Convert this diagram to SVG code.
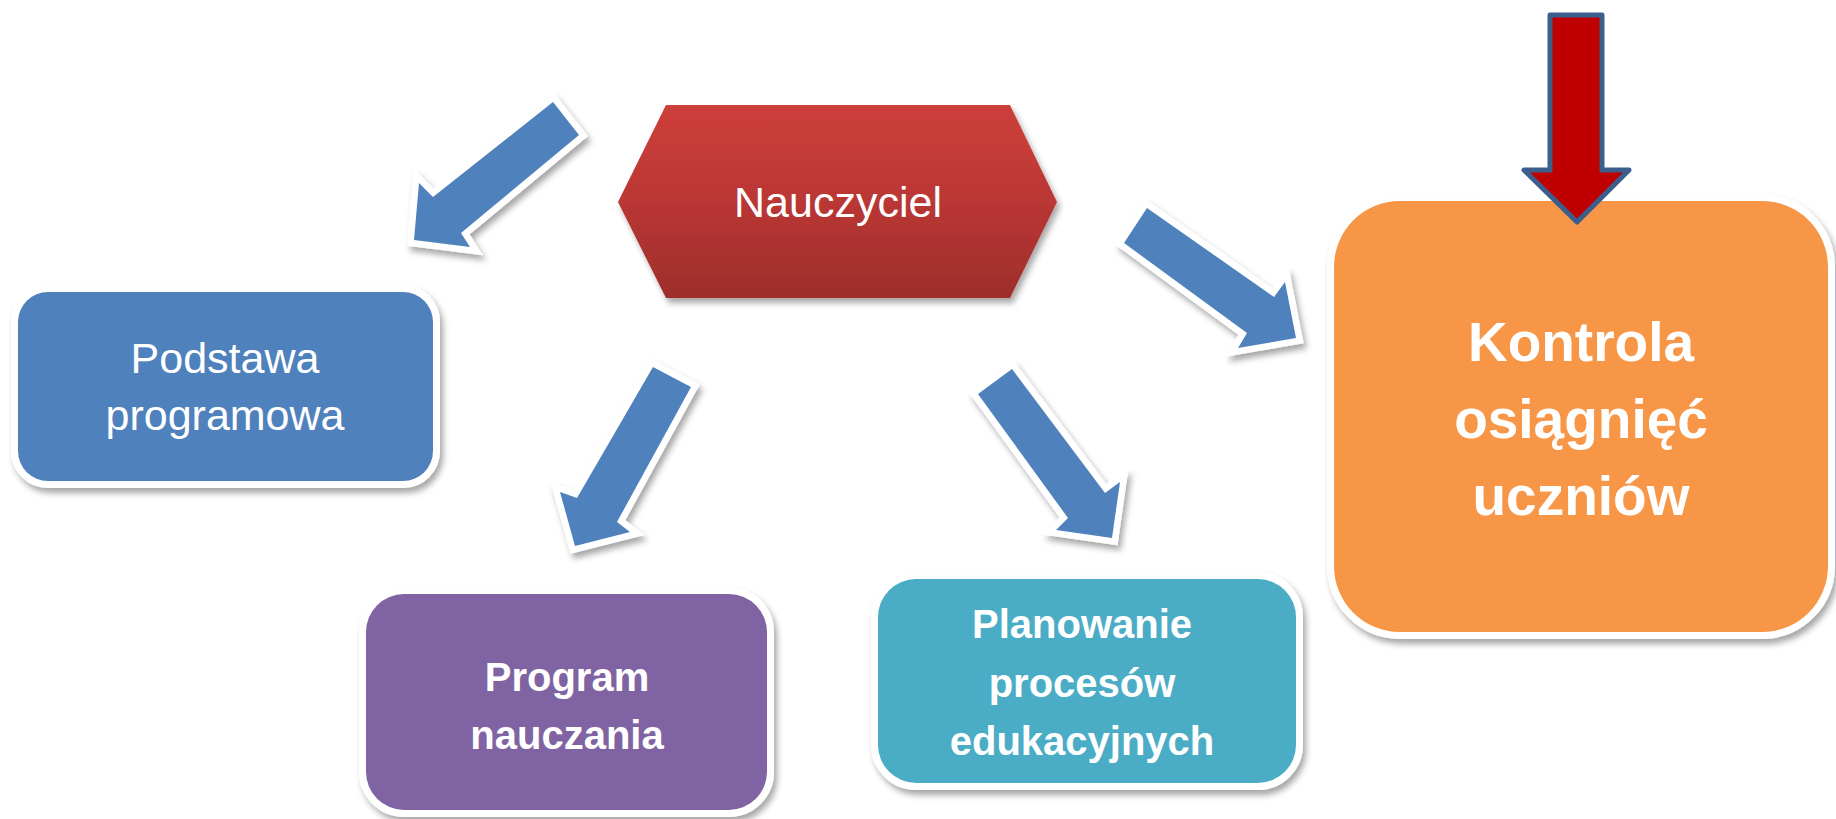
<svg xmlns="http://www.w3.org/2000/svg" width="1836" height="819" viewBox="0 0 1836 819">
  <defs>
    <filter id="sh" x="-10%" y="-10%" width="125%" height="130%">
      <feDropShadow dx="3" dy="5" stdDeviation="3" flood-color="#000" flood-opacity="0.35"/>
    </filter>
    <linearGradient id="hexg" x1="0" y1="0" x2="0" y2="1">
      <stop offset="0" stop-color="#CD3F3B"/>
      <stop offset="0.5" stop-color="#BA3734"/>
      <stop offset="1" stop-color="#9E2D2B"/>
    </linearGradient>
    <style>
      .box { stroke: #FFFFFF; stroke-width: 14; paint-order: stroke; filter: url(#sh); }
      .barrow { fill: #4F81BD; stroke: #FFFFFF; stroke-width: 13; stroke-linejoin: miter; paint-order: stroke; filter: url(#sh); }
      .t { fill: #FFFFFF; font-family: "Liberation Sans", Arial, sans-serif; text-anchor: middle; }
      .reg { font-size: 43px; }
      .b40 { font-size: 40px; font-weight: bold; }
      .b55 { font-size: 55px; font-weight: bold; }
    </style>
  </defs>
  <rect width="1836" height="819" fill="#FFFFFF"/>

  <g id="connectors">
    <polygon class="barrow" points="553,102 579,135 461,233 470,247 414,240 419,183 433,197"/>
    <polygon class="barrow" points="1147,208 1124,243 1247,333 1238,348 1296,338 1285,282 1274,297"/>
    <polygon class="barrow" points="653,367 691,387 617,522 630,532 575,546 560,492 577,498"/>
    <polygon class="barrow" points="1012,369 978,394 1068,518 1056,530 1112,538 1120,482 1105,493"/>
  </g>

  <g id="node-nauczyciel">
    <polygon points="618,202 666,105 1010,105 1057,202 1010,298 666,298" fill="url(#hexg)" filter="url(#sh)"/>
    <text class="t reg" x="838" y="217" font-size="42">Nauczyciel</text>
  </g>

  <g id="node-podstawa">
    <rect class="box" x="18" y="292" width="415" height="189" rx="30" fill="#4F81BD"/>
    <text class="t reg" x="225" y="373">Podstawa</text>
    <text class="t reg" x="225" y="430">programowa</text>
  </g>

  <g id="node-program">
    <rect class="box" x="366" y="594" width="401" height="216" rx="38" fill="#8064A2"/>
    <text class="t b40" x="567" y="691">Program</text>
    <text class="t b40" x="567" y="749">nauczania</text>
  </g>

  <g id="node-planowanie">
    <rect class="box" x="878" y="579" width="418" height="204" rx="38" fill="#4BACC6"/>
    <text class="t b40" x="1082" y="638">Planowanie</text>
    <text class="t b40" x="1082" y="697">procesów</text>
    <text class="t b40" x="1082" y="755">edukacyjnych</text>
  </g>

  <g id="node-kontrola">
    <rect class="box" x="1334" y="201" width="494" height="431" rx="66" fill="#F79646"/>
    <text class="t b55" x="1581" y="361">Kontrola</text>
    <text class="t b55" x="1581" y="438">osiągnięć</text>
    <text class="t b55" x="1581" y="515">uczniów</text>
  </g>

  <g id="red-arrow">
    <polygon points="1550,15 1602,15 1602,170 1629,170 1577,222 1524,170 1550,170" fill="#C00000" stroke="#3B5E8C" stroke-width="5" stroke-linejoin="round"/>
  </g>
</svg>
